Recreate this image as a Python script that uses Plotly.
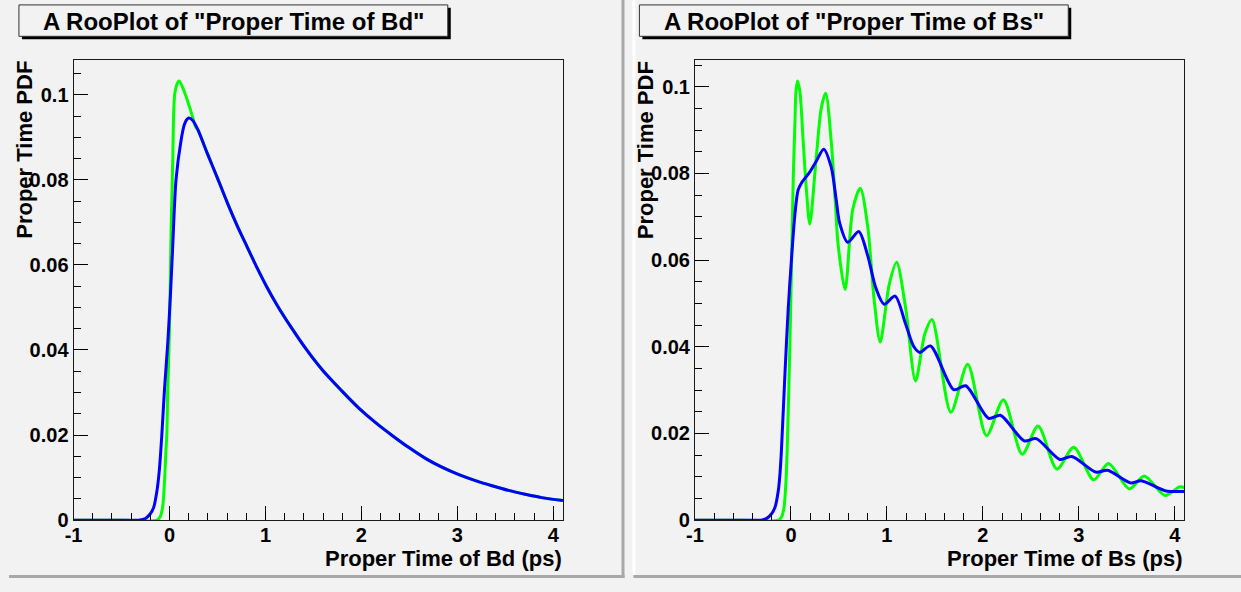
import plotly.graph_objects as go

W, H = 1241, 592
BG = "#f2f2f2"

# ---- Bd proper time (ps) and PDF values ----
# ideal decay (green) up to where it joins the smeared curve
bd_t_true = [-1.0, -0.5, -0.13, -0.097, -0.072, -0.052, -0.038, -0.028, -0.018, 0.0,
             0.017, 0.034, 0.044, 0.058, 0.09, 0.103, 0.155, 0.223, 0.275]
bd_pdf_true = [0.0, 0.0, 0.0, 0.0008, 0.003, 0.009, 0.016, 0.020, 0.031, 0.045,
               0.0685, 0.0845, 0.0961, 0.1007, 0.1030, 0.1032, 0.1007, 0.0961, 0.0923]
# resolution-smeared rise (blue)
bd_t_smeared = [-1.0, -0.5, -0.32, -0.25, -0.2, -0.165, -0.13, -0.105, -0.08, -0.052,
                -0.018, 0.010, 0.034, 0.068, 0.12, 0.155, 0.189, 0.207, 0.241]
bd_pdf_smeared = [0.0, 0.0, 0.0, 0.0004, 0.0015, 0.003, 0.007, 0.012, 0.020, 0.0308,
                  0.0416, 0.0531, 0.0646, 0.0800, 0.0892, 0.0930, 0.0944, 0.0945, 0.0940]
# common exponential tail of both Bd curves
bd_tail_t = [0.293, 0.396, 0.5, 0.603, 0.706, 0.81, 0.913, 1.017, 1.12, 1.26, 1.43,
             1.60, 1.79, 1.97, 2.154, 2.327, 2.499, 2.671, 2.844, 3.016, 3.188, 3.361,
             3.533, 3.705, 3.878, 4.1]
bd_tail_pdf = [0.0919, 0.0861, 0.0804, 0.0746, 0.0692, 0.0642, 0.0593, 0.0547, 0.0506,
               0.0456, 0.0400, 0.0351, 0.0305, 0.0264, 0.0228, 0.0198, 0.0170, 0.01447,
               0.0124, 0.0107, 0.0093, 0.0081, 0.0070, 0.0061, 0.0053, 0.0046]

# ---- Bs proper time (ps) and PDF values ----
bs_t_true = [-1.0, -0.5, -0.131, -0.097, -0.072, -0.052, -0.040, -0.010, 0.017, 0.024,
             0.041, 0.052, 0.068, 0.093, 0.127, 0.161, 0.196, 0.264, 0.316, 0.362,
             0.419, 0.465, 0.489, 0.564, 0.644, 0.723, 0.799, 0.868, 0.930, 1.023,
             1.101, 1.194, 1.298, 1.395, 1.470, 1.666, 1.842, 2.038, 2.214, 2.410,
             2.575, 2.772, 2.947, 3.154, 3.309, 3.526, 3.681, 3.898, 4.053, 4.1]
bs_pdf_true = [0.0, 0.0, 0.0, 0.0008, 0.003, 0.009, 0.0158, 0.0415, 0.0717, 0.0792,
               0.0913, 0.0989, 0.1013, 0.0989, 0.0875, 0.0762, 0.0683, 0.0838, 0.0951, 0.0985,
               0.0875, 0.0724, 0.0641, 0.0532, 0.0717, 0.0766, 0.0679, 0.0506, 0.0411, 0.0543,
               0.0595, 0.0491, 0.0321, 0.0430, 0.0463, 0.0249, 0.0360, 0.0195, 0.0278, 0.0152,
               0.0217, 0.0118, 0.0168, 0.0093, 0.0131, 0.0072, 0.0102, 0.0057, 0.0077, 0.0075]
bs_t_smeared = [-1.0, -0.5, -0.32, -0.253, -0.201, -0.166, -0.132, -0.115, -0.10, -0.062,
                -0.028, 0.006, 0.041, 0.075, 0.110, 0.150, 0.196, 0.264, 0.341, 0.419,
                0.471, 0.506, 0.592, 0.706, 0.799, 0.884, 0.971, 1.085, 1.194, 1.281,
                1.343, 1.453, 1.697, 1.821, 2.059, 2.183, 2.431, 2.555, 2.803, 2.927,
                3.175, 3.299, 3.537, 3.650, 3.898, 4.1]
bs_pdf_smeared = [0.0, 0.0, 0.0, 0.0004, 0.0015, 0.003, 0.0068, 0.0105, 0.0158, 0.034,
                  0.049, 0.0604, 0.0705, 0.0762, 0.0778, 0.0790, 0.0803, 0.0828, 0.0856, 0.0815,
                  0.0740, 0.0687, 0.0641, 0.0666, 0.0611, 0.0536, 0.0498, 0.0517, 0.0453, 0.0400,
                  0.0387, 0.0402, 0.0301, 0.0310, 0.0235, 0.0242, 0.0183, 0.0188, 0.0140, 0.0147,
                  0.0111, 0.0115, 0.0086, 0.0091, 0.0068, 0.0066]

x_tick_vals = [-1, 0, 1, 2, 3, 4]
x_tick_text = ["-1", "0", "1", "2", "3", "4"]

titles = ['A RooPlot of "Proper Time of Bd"', 'A RooPlot of "Proper Time of Bs"']
x_titles = ["Proper Time of Bd (ps)", "Proper Time of Bs (ps)"]
y_title = "Proper Time PDF"

GREEN = "#00ff00"
BLUE = "#0000ff"
FONT = "Liberation Sans"


def px(x):
    return x / W


def py(y):
    return 1 - y / H


# frame positions in pixels: (left, right, top, bottom)
frames = [(65, 558, 61, 530), (691, 1184, 61, 530)]
y_tops = [0.1082, 0.1062]

fig = go.Figure()

curves = [
    ("x", "y", bd_t_true + bd_tail_t, bd_pdf_true + bd_tail_pdf, GREEN),
    ("x", "y", bd_t_smeared + bd_tail_t, bd_pdf_smeared + bd_tail_pdf, BLUE),
    ("x2", "y2", bs_t_true, bs_pdf_true, GREEN),
    ("x2", "y2", bs_t_smeared, bs_pdf_smeared, BLUE),
]
for xa, ya, xs, ys, col in curves:
    fig.add_trace(go.Scatter(
        x=xs, y=ys, mode="lines", xaxis=xa, yaxis=ya, showlegend=False,
        hoverinfo="skip",
        line=dict(color=col, width=3, shape="spline", smoothing=0.8),
    ))

tickfont = dict(family=FONT, size=20, color="black", weight="bold")


def xaxis_cfg(left, right):
    return dict(
        domain=[px(left), px(right)], range=[-1, 4.1],
        showline=True, linecolor="#1a1a1a", linewidth=1, mirror=True,
        showgrid=False, zeroline=False,
        ticks="inside", ticklen=14, tickwidth=1, tickcolor="black",
        tickmode="array", tickvals=x_tick_vals, ticktext=x_tick_text,
        tickfont=tickfont, ticklabelstandoff=-3,
        minor=dict(ticks="inside", ticklen=7, tickwidth=1, tickcolor="black",
                   tickmode="linear", tick0=0, dtick=0.2, showgrid=False),
        fixedrange=True,
    )


def yaxis_cfg(top, bottom, ymax):
    return dict(
        domain=[py(bottom), py(top)], range=[0, ymax],
        showline=True, linecolor="#1a1a1a", linewidth=1, mirror=True,
        showgrid=False, zeroline=False,
        ticks="inside", ticklen=14, tickwidth=1, tickcolor="black",
        tickmode="linear", tick0=0, dtick=0.02,
        tickfont=tickfont, ticklabelstandoff=0,
        minor=dict(ticks="inside", ticklen=7, tickwidth=1, tickcolor="black",
                   tickmode="linear", tick0=0, dtick=0.005, showgrid=False),
        fixedrange=True,
    )


(l1, r1, t1, b1), (l2, r2, t2, b2) = frames
xa1 = xaxis_cfg(l1, r1); xa1["anchor"] = "y"
xa2 = xaxis_cfg(l2, r2); xa2["anchor"] = "y2"
ya1 = yaxis_cfg(t1, b1, y_tops[0]); ya1["anchor"] = "x"
ya2 = yaxis_cfg(t2, b2, y_tops[1]); ya2["anchor"] = "x2"

shapes = []
annotations = []

# pad borders
pad_edge = "#a8a8a8"
shapes += [
    dict(type="rect", xref="paper", yref="paper", x0=px(617), x1=px(620), y0=py(589), y1=py(0),
         fillcolor=pad_edge, line=dict(width=0), layer="below"),
    dict(type="rect", xref="paper", yref="paper", x0=px(0), x1=px(620), y0=py(589), y1=py(586),
         fillcolor=pad_edge, line=dict(width=0), layer="below"),
    dict(type="rect", xref="paper", yref="paper", x0=px(629), x1=px(1241), y0=py(589), y1=py(586),
         fillcolor=pad_edge, line=dict(width=0), layer="below"),
    dict(type="rect", xref="paper", yref="paper", x0=px(628), x1=px(631), y0=py(586), y1=py(0),
         fillcolor="#ffffff", line=dict(width=0), layer="below"),
]

# title boxes with drop shadow
boxes = [(10, 442, 5, 37), (635, 1067, 5, 37)]
for (bx0, bx1, by0, by1), title in zip(boxes, titles):
    shapes.append(dict(type="rect", xref="paper", yref="paper",
                       x0=px(bx0 + 3), x1=px(bx1 + 3), y0=py(by1 + 3), y1=py(by0 + 3),
                       fillcolor="black", line=dict(width=0)))
    shapes.append(dict(type="rect", xref="paper", yref="paper",
                       x0=px(bx0), x1=px(bx1), y0=py(by1), y1=py(by0),
                       fillcolor=BG, line=dict(color="#333333", width=1)))
    annotations.append(dict(xref="paper", yref="paper", x=px((bx0 + bx1) / 2), y=py((by0 + by1) / 2 + 1),
                            text=title, showarrow=False, xanchor="center", yanchor="middle",
                            font=dict(family=FONT, size=24, color="black", weight="bold")))

# axis titles
for (l, r, t, b), xt in zip(frames, x_titles):
    annotations.append(dict(xref="paper", yref="paper", x=px(r + 1), y=py(584),
                            text=xt, showarrow=False, xanchor="right", yanchor="bottom",
                            font=dict(family=FONT, size=22, color="black", weight="bold")))
    annotations.append(dict(xref="paper", yref="paper", x=px(l - 49), y=py(t - 1),
                            text=y_title, showarrow=False, xanchor="center", yanchor="top",
                            textangle=-90,
                            font=dict(family=FONT, size=22, color="black", weight="bold")))

fig.update_layout(
    width=W, height=H, margin=dict(l=0, r=0, t=0, b=0),
    paper_bgcolor=BG, plot_bgcolor=BG,
    xaxis=xa1, yaxis=ya1, xaxis2=xa2, yaxis2=ya2,
    shapes=shapes, annotations=annotations,
    showlegend=False,
)

fig.write_html("out.html", config={"displayModeBar": False})
